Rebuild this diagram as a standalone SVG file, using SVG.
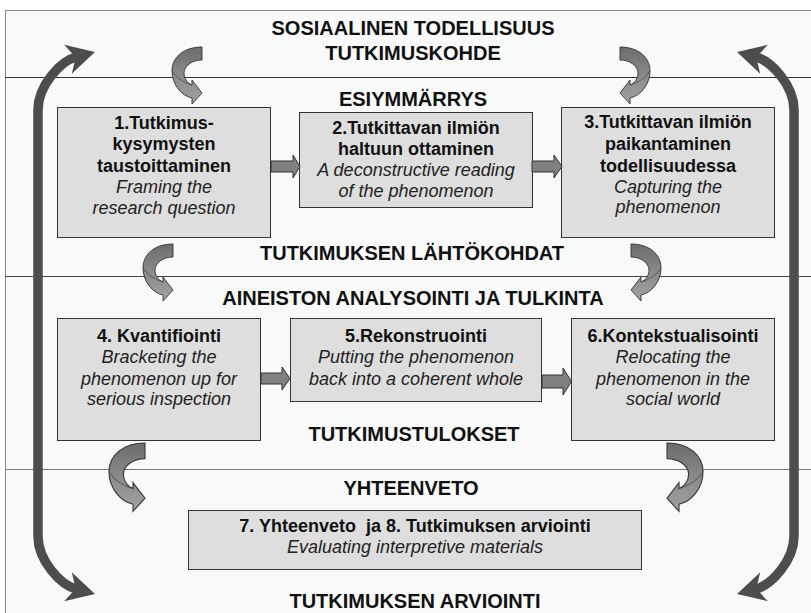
<svg xmlns="http://www.w3.org/2000/svg" width="811" height="613" viewBox="0 0 811 613">
<style>
.h{font:bold 20px "Liberation Sans",Arial,sans-serif;text-anchor:middle;fill:#111}
.b{font:bold 18px "Liberation Sans",Arial,sans-serif;text-anchor:middle;fill:#111}
.i{font:italic 18px "Liberation Sans",Arial,sans-serif;text-anchor:middle;fill:#222}
.box{fill:#dedede;stroke:#333;stroke-width:1}
.blk{fill:#808080;stroke:#333;stroke-width:1}
.shaft{fill:none;stroke:#4d4d4d;stroke-width:9.5}
.head{fill:#4d4d4d}
.curl{fill:url(#cg);stroke:#333;stroke-width:0.9}
.fold{fill:none;stroke:#444;stroke-width:0.7}
</style>
<defs>
<linearGradient id="cg" x1="0" y1="0" x2="0" y2="1">
<stop offset="0" stop-color="#6c6c6c"/>
<stop offset="0.5" stop-color="#8a8a8a"/>
<stop offset="1" stop-color="#a2a2a2"/>
</linearGradient>
<g id="curl">
<path class="curl" d="M0,0 C-18,0 -30,10 -30,24 C-30,38 -20,49 -10,51 L-10,57 L0,46 L-10,33 L-10,38 C-15,36 -18,31 -18,26 C-18,19 -10,13 0,13 Z"/>
<path class="fold" d="M-30,24 C-26,30 -20,35 -10,38"/>
</g>
<g id="bigarrow">
<path class="shaft" d="M38,323 V110 C38,85 61,61 76,57"/>
<polygon class="head" points="95,52 64.1,44.8 75.7,57.2 71.8,73.7"/>
<path class="shaft" d="M38,323 V536 C38,561 61,585 76,589"/>
<polygon class="head" points="95,594 64.1,601.2 75.7,588.8 71.8,572.3"/>
</g>
</defs>
<rect x="0" y="0" width="811" height="613" fill="#ffffff"/>
<rect x="5.5" y="10.5" width="900" height="700" fill="#f8f9f9" stroke="#888" stroke-width="1"/>
<g id="bands" stroke-width="1">
<line x1="5" y1="77.5" x2="811" y2="77.5" stroke="#333"/>
<line x1="5" y1="276.5" x2="811" y2="276.5" stroke="#444"/>
<line x1="5" y1="469.5" x2="811" y2="469.5" stroke="#777"/>
</g>
<g id="headings">
<text class="h" x="413" y="35">SOSIAALINEN TODELLISUUS</text>
<text class="h" x="413" y="60">TUTKIMUSKOHDE</text>
<text class="h" x="413" y="106">ESIYMMÄRRYS</text>
<text class="h" x="412" y="260">TUTKIMUKSEN LÄHTÖKOHDAT</text>
<text class="h" x="413" y="305">AINEISTON ANALYSOINTI JA TULKINTA</text>
<text class="h" x="414" y="441">TUTKIMUSTULOKSET</text>
<text class="h" x="411" y="495">YHTEENVETO</text>
<text class="h" x="415" y="608">TUTKIMUKSEN ARVIOINTI</text>
</g>
<g id="node1">
<rect class="box" x="57.5" y="107.5" width="213" height="130"/>
<text class="b" x="164" y="129">1.Tutkimus-</text>
<text class="b" x="164" y="150">kysymysten</text>
<text class="b" x="164" y="172">taustoittaminen</text>
<text class="i" x="164" y="193">Framing the</text>
<text class="i" x="164" y="214">research question</text>
</g>
<g id="node2">
<rect class="box" x="299.5" y="112.5" width="233" height="95"/>
<text class="b" x="416" y="134">2.Tutkittavan ilmiön</text>
<text class="b" x="416" y="155">haltuun ottaminen</text>
<text class="i" x="416" y="176">A deconstructive reading</text>
<text class="i" x="416" y="197">of the phenomenon</text>
</g>
<g id="node3">
<rect class="box" x="561.5" y="107.5" width="213" height="130"/>
<text class="b" x="668" y="128">3.Tutkittavan ilmiön</text>
<text class="b" x="668" y="150">paikantaminen</text>
<text class="b" x="668" y="172">todellisuudessa</text>
<text class="i" x="668" y="193">Capturing the</text>
<text class="i" x="668" y="213">phenomenon</text>
</g>
<g id="node4">
<rect class="box" x="57.5" y="318.5" width="203" height="122"/>
<text class="b" x="159" y="342">4. Kvantifiointi</text>
<text class="i" x="159" y="363">Bracketing the</text>
<text class="i" x="159" y="385">phenomenon up for</text>
<text class="i" x="159" y="405">serious inspection</text>
</g>
<g id="node5">
<rect class="box" x="290.5" y="318.5" width="251" height="83"/>
<text class="b" x="416" y="342">5.Rekonstruointi</text>
<text class="i" x="416" y="363">Putting the phenomenon</text>
<text class="i" x="416" y="385">back into a coherent whole</text>
</g>
<g id="node6">
<rect class="box" x="571.5" y="318.5" width="203" height="122"/>
<text class="b" x="673" y="342">6.Kontekstualisointi</text>
<text class="i" x="673" y="363">Relocating the</text>
<text class="i" x="673" y="385">phenomenon in the</text>
<text class="i" x="673" y="405">social world</text>
</g>
<g id="node7">
<rect class="box" x="188.5" y="510.5" width="453" height="59"/>
<text class="b" x="415" y="532">7. Yhteenveto&#160; ja 8. Tutkimuksen arviointi</text>
<text class="i" x="415" y="553">Evaluating interpretive materials</text>
</g>
<g id="connectors">
<polygon class="blk" points="271,161 293,161 293,155 300,166.5 293,178 293,172 271,172"/>
<polygon class="blk" points="532,161 554,161 554,155 562,166.5 554,178 554,172 532,172"/>
<polygon class="blk" points="261,373 282,373 282,367 290,378.5 282,390 282,384 261,384"/>
<polygon class="blk" points="542,375 563,375 563,368 571.5,381.5 563,395 563,388 542,388"/>
<use href="#curl" transform="translate(202,47)"/>
<use href="#curl" transform="translate(620,47) scale(-1,1)"/>
<use href="#curl" transform="translate(173,244)"/>
<use href="#curl" transform="translate(631,244) scale(-1,1)"/>
<use href="#curl" transform="translate(145,443) scale(1.2)"/>
<use href="#curl" transform="translate(667,443) scale(-1.2,1.2)"/>
<use href="#bigarrow"/>
<use href="#bigarrow" transform="translate(832,0) scale(-1,1)"/>
</g>
</svg>
